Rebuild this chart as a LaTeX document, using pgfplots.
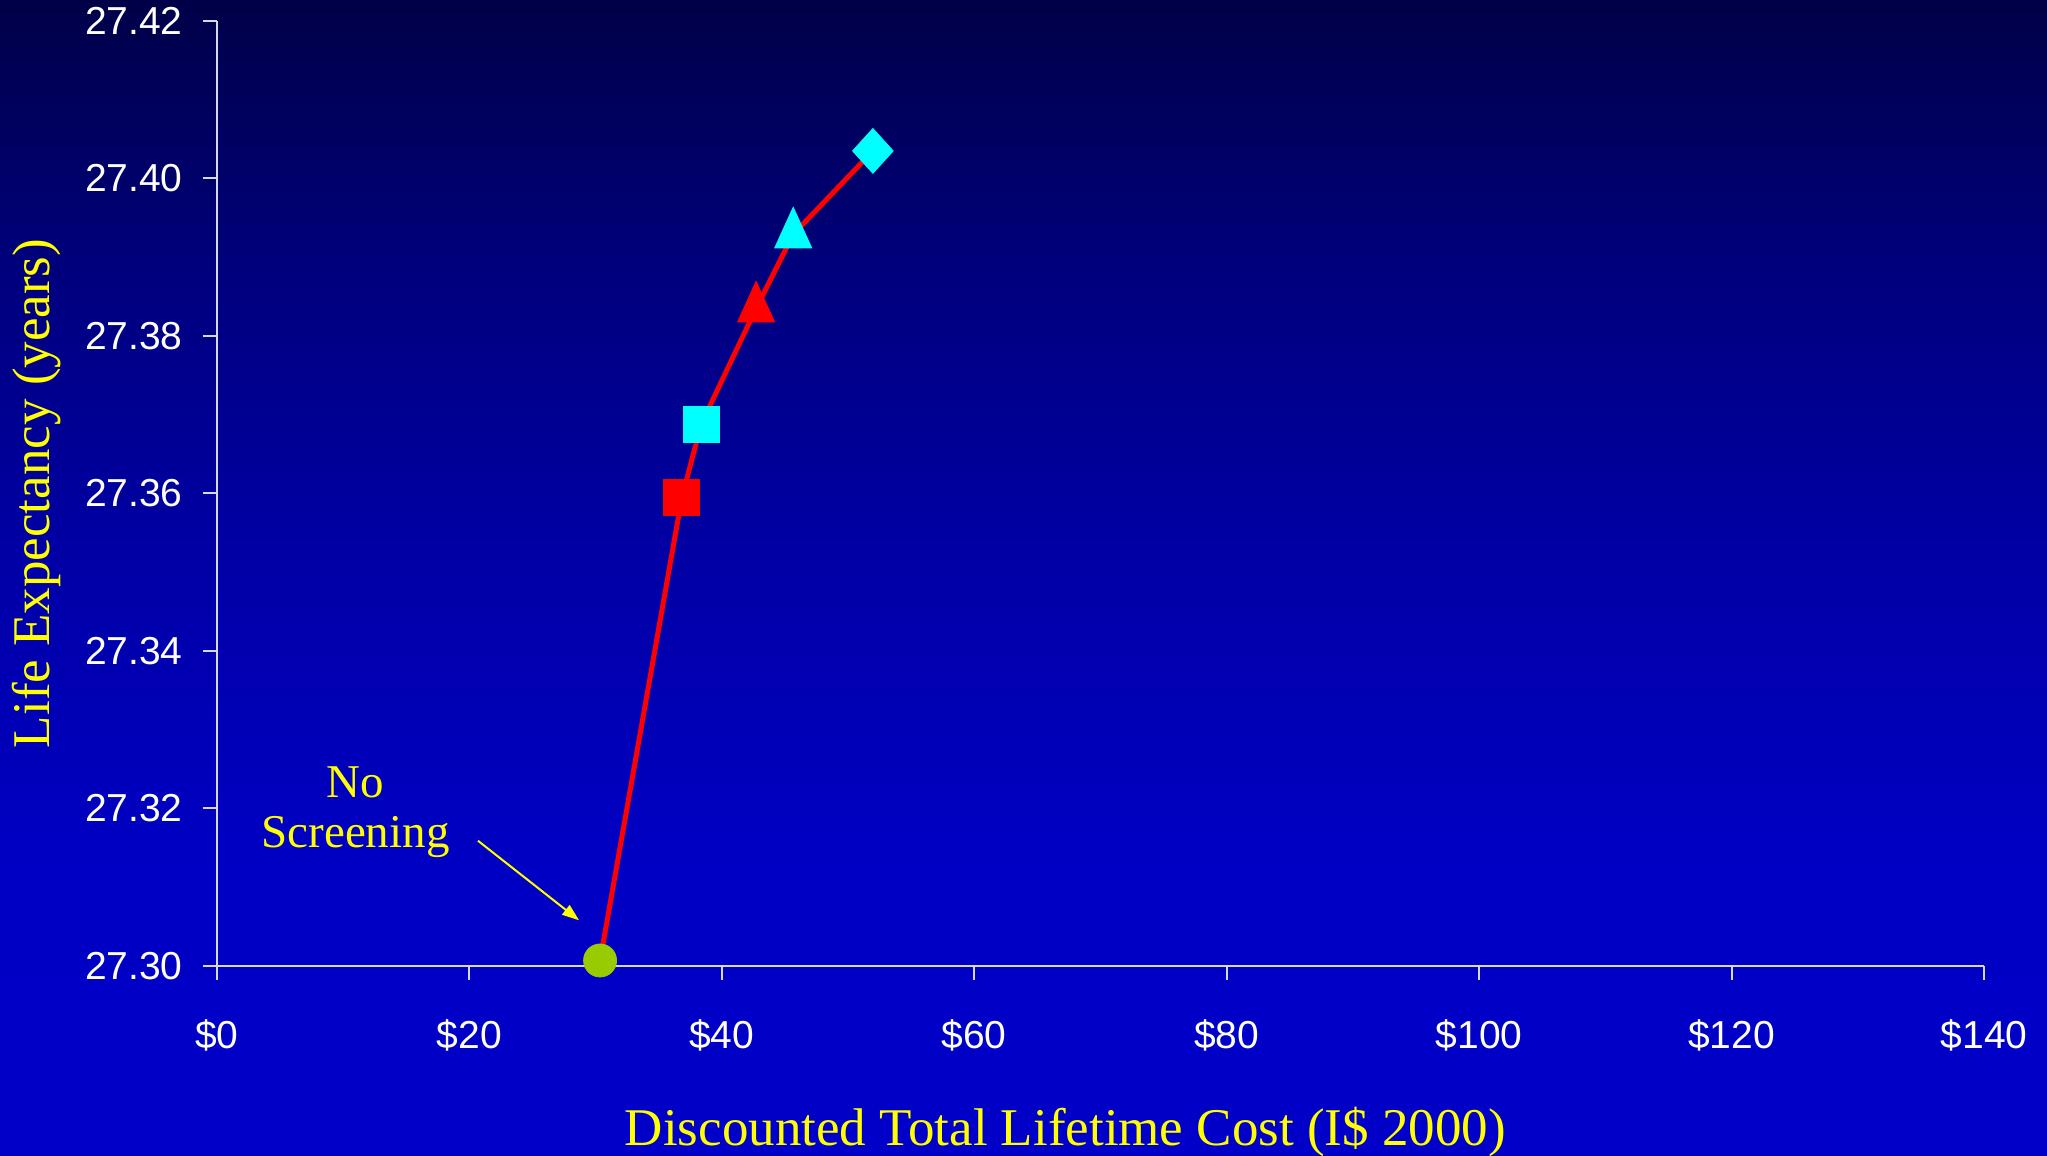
\documentclass[border=0pt]{standalone}
\usepackage{fontspec}
\setmainfont{Liberation Serif}
\newfontfamily\arialfont{Liberation Sans}
\usepackage{pgfplots}
\pgfplotsset{compat=1.18}
\usetikzlibrary{arrows.meta}

\definecolor{bgtop}{RGB}{0,0,72}
\definecolor{bgup}{RGB}{0,0,128}
\definecolor{bgmid}{RGB}{0,0,168}
\definecolor{bglow}{RGB}{0,0,196}
\definecolor{bgbot}{RGB}{0,0,200}
\definecolor{axisgray}{RGB}{215,215,230}
\definecolor{nsgreen}{RGB}{153,204,0}
\definecolor{aqua}{RGB}{0,255,255}
\definecolor{pure red}{RGB}{255,0,0}
\definecolor{pure yellow}{RGB}{255,255,0}

% slide background: dark navy at the top fading to bright blue
\pgfdeclareverticalshading{slidebg}{100bp}{color(0bp)=(bgbot); color(25bp)=(bgbot); color(37.4bp)=(bglow); color(50bp)=(bgmid); color(62.5bp)=(bgup); color(75bp)=(bgtop); color(100bp)=(bgtop)}

\begin{document}
\begin{tikzpicture}
\shade[shading=slidebg] (0pt,0pt) rectangle (1023.5pt,578pt);
\path[use as bounding box] (0pt,0pt) rectangle (1023.5pt,578pt);
\begin{axis}[
  at={(108.35pt,95pt)}, anchor=south west,
  scale only axis, width=883.65pt, height=472.5pt,
  xmin=0, xmax=140, ymin=27.30, ymax=27.42,
  clip=false,
  axis x line*=bottom, axis y line*=left,
  xtick pos=bottom, ytick pos=left,
  axis line style={-, draw=axisgray, line width=1pt},
  xtick align=outside, ytick align=outside, major tick length=7pt,
  tick style={draw=axisgray, line width=1pt},
  xtick={0,20,40,60,80,100,120,140},
  xticklabels={\$0,\$20,\$40,\$60,\$80,\$100,\$120,\$140},
  ytick={27.30,27.32,27.34,27.36,27.38,27.40,27.42},
  yticklabels={27.30,27.32,27.34,27.36,27.38,27.40,27.42},
  tick label style={font=\arialfont\fontsize{19.5}{23}\selectfont, text=white},
  xticklabel style={yshift=-16.5pt},
  yticklabel style={xshift=-6.5pt},
  xlabel={Discounted Total Lifetime Cost (I\$ 2000)},
  ylabel={Life Expectancy (years)},
  every axis x label/.style={at={(axis description cs:0.4802,0)}, anchor=base, yshift=-90pt},
  every axis y label/.style={at={(axis description cs:-0.0945,0.5)}, anchor=base, rotate=90},
  label style={font=\fontsize{26.5}{30}\selectfont, text=pure yellow},
]
% cost-effectiveness frontier
\addplot[pure red, line width=2.5pt, no marks] coordinates {
  (30.37,27.3007) (36.85,27.3595) (38.38,27.3688)
  (42.73,27.3835) (45.67,27.3929) (51.98,27.4035)};
% strategies
\addplot[only marks, mark=*, mark size=8.25pt, color=nsgreen] coordinates {(30.37,27.3007)};
\addplot[only marks, mark=square*, mark size=9pt, color=pure red] coordinates {(36.85,27.3595)};
\addplot[only marks, mark=square*, mark size=9pt, color=aqua] coordinates {(38.38,27.3688)};
\addplot[only marks, mark=triangle*, mark size=10.7pt, mark options={yscale=1.27}, color=pure red] coordinates {(42.73,27.3835)};
\addplot[only marks, mark=triangle*, mark size=10.7pt, mark options={yscale=1.27}, color=aqua] coordinates {(45.67,27.3929)};
\addplot[only marks, mark=diamond*, mark size=11.2pt, mark options={xscale=1.21}, color=aqua] coordinates {(51.98,27.4035)};
% annotation
\node[font=\fontsize{23.5}{25}\selectfont, text=pure yellow, anchor=base] at (axis cs:11.0,27.3214) {No};
\node[font=\fontsize{23.5}{25}\selectfont, text=pure yellow, anchor=base] at (axis cs:11.0,27.3150) {Screening};
\draw[pure yellow, line width=1pt, -{Triangle[length=8.5pt,width=6pt]}] (axis cs:20.7,27.3159) -- (axis cs:28.71,27.3058);
\end{axis}
\end{tikzpicture}
\end{document}
